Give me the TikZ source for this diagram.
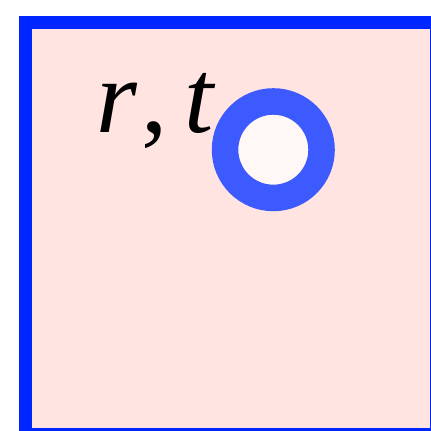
\documentclass[tikz,border=0pt]{standalone}
\usepackage{fontspec}
\setmainfont{Liberation Serif}
\definecolor{bgpink}{HTML}{FFE4E1}
\definecolor{borderblue}{HTML}{0026FF}
\definecolor{ringblue}{HTML}{3D5AFE}
\definecolor{innerwhite}{HTML}{FFF8F6}
\tikzset{
  frame/.style={draw=borderblue, fill=bgpink, line width=13pt},
  ring/.style={circle, draw=ringblue, fill=innerwhite, line width=26.5pt, minimum size=96.5pt, inner sep=0pt},
  lbl/.style={inner sep=0pt, font=\fontsize{105}{105}\selectfont}
}
\begin{document}
\begin{tikzpicture}[x=1pt,y=-1pt]
\useasboundingbox (0,0) rectangle (431,431);
\path[frame] (25.5,22.5) rectangle (436.8,434.5);
\node[ring] (dot) at (273.3,149.7) {};
\node[lbl, anchor=base west] (label) at (96,132) {\itshape r\hspace{4pt}\upshape,\hspace{17pt}\itshape t};
\end{tikzpicture}
\end{document}
